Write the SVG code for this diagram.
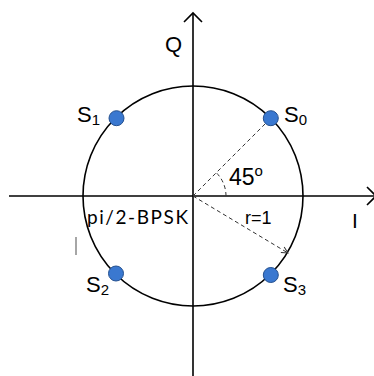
<svg xmlns="http://www.w3.org/2000/svg" width="374" height="376" viewBox="0 0 374 376">
<defs>
<style>
.ax{stroke:#000;stroke-width:1.6;fill:none}
.dash{stroke:#333;stroke-width:1;stroke-dasharray:4 3;fill:none}
.dot{fill:#3a78d0;stroke:#24508f;stroke-width:1}
.lbl{font-family:"Liberation Sans",Arial,sans-serif;fill:#000}
</style>
<marker id="open" viewBox="0 0 10 10" refX="9" refY="5" markerWidth="8" markerHeight="8" markerUnits="userSpaceOnUse" orient="auto">
<path d="M1,1 L9,5 L1,9" fill="none" stroke="#333" stroke-width="1.2"/>
</marker>
</defs>
<rect width="374" height="376" fill="#fff"/>
<g id="connectors">
<line class="ax" x1="193" y1="376" x2="193" y2="13"/>
<path class="ax" d="M184,22 L193,13 L202,22"/>
<line class="ax" x1="9" y1="196" x2="375" y2="196"/>
<path class="ax" d="M367,187 L376,196 L367,205"/>
<circle class="ax" cx="193" cy="196" r="110" stroke-width="2"/>
<line class="dash" x1="193" y1="196" x2="270.8" y2="118.2"/>
<line class="dash" x1="193" y1="196" x2="288" y2="253" marker-end="url(#open)"/>
<path class="dash" d="M226,196 A33,33 0 0 0 216.3,172.7"/>
<line x1="76" y1="237" x2="76" y2="255" stroke="#888" stroke-width="1.5"/>
</g>
<g id="S0">
<circle class="dot" cx="270.8" cy="118.2" r="7.5"/>
<text class="lbl" x="284" y="122" font-size="22">S<tspan font-size="15" dy="3">0</tspan></text>
</g>
<g id="S1">
<circle class="dot" cx="116.5" cy="118.2" r="7.5"/>
<text class="lbl" x="77" y="122" font-size="22">S<tspan font-size="15" dy="3">1</tspan></text>
</g>
<g id="S2">
<circle class="dot" cx="116" cy="273.5" r="7.5"/>
<text class="lbl" x="86" y="292" font-size="22">S<tspan font-size="15" dy="3">2</tspan></text>
</g>
<g id="S3">
<circle class="dot" cx="270.8" cy="275" r="7.5"/>
<text class="lbl" x="283" y="292" font-size="22">S<tspan font-size="15" dy="3">3</tspan></text>
</g>
<g id="labels">
<text class="lbl" x="165" y="52" font-size="22">Q</text>
<text class="lbl" x="352" y="228" font-size="21">I</text>
<text class="lbl" x="229" y="185" font-size="23">45<tspan font-size="15" dy="-9">o</tspan></text>
<text class="lbl" x="245" y="224" font-size="18">r=1</text>
<text x="87" y="224" font-size="19" font-family="Lato,'Open Sans',sans-serif" textLength="101" lengthAdjust="spacing">pi/2-BPSK</text>
</g>
</svg>
